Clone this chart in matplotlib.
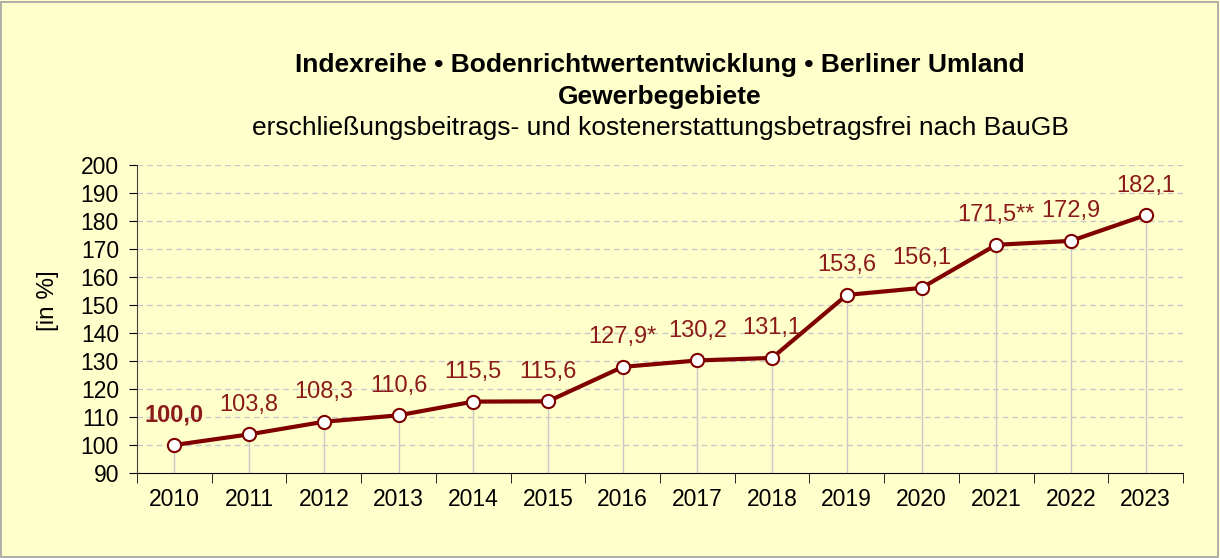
import matplotlib
matplotlib.use("Agg")
import matplotlib.pyplot as plt
from matplotlib.patches import Rectangle

years = ["2010", "2011", "2012", "2013", "2014", "2015", "2016", "2017",
         "2018", "2019", "2020", "2021", "2022", "2023"]
values = [100.0, 103.8, 108.3, 110.6, 115.5, 115.6, 127.9, 130.2,
          131.1, 153.6, 156.1, 171.5, 172.9, 182.1]
labels = ["100,0", "103,8", "108,3", "110,6", "115,5", "115,6", "127,9*", "130,2",
          "131,1", "153,6", "156,1", "171,5**", "172,9", "182,1"]
yticks = list(range(90, 201, 10))

plt.rcParams['font.family'] = ['Liberation Sans', 'DejaVu Sans']

bg = "#FFFFCC"
red = "#800000"
lab_red = "#8B1A1A"

fig = plt.figure(figsize=(12.2, 5.58), dpi=100, facecolor=bg)
fig.patches.append(Rectangle((0.001, 0.002), 0.997, 0.995, transform=fig.transFigure,
                             fill=False, edgecolor="#A0A0A0", linewidth=1.2))
ax = fig.add_axes([0.1123, 0.1523, 0.8574, 0.552])
ax.set_facecolor(bg)

x = list(range(len(years)))
ax.set_xlim(-0.5, len(years) - 0.5)
ax.set_ylim(90, 200)

for yv in yticks[1:]:
    ax.axhline(yv, color="#C8C8C8", linestyle=(0, (4, 3)), linewidth=1.0, zorder=1)

ax.vlines(x, 90, values, color="#C8C8C8", linewidth=1.0, zorder=2)
ax.plot(x, values, color=red, linewidth=3, zorder=3,
        marker="o", markersize=9.5, markerfacecolor="white",
        markeredgecolor=red, markeredgewidth=1.5)

for i, (xv, v, lab) in enumerate(zip(x, values, labels)):
    ax.annotate(lab, (xv, v), xytext=(0, 17), textcoords="offset points",
                ha="center", va="baseline", fontsize=17, color=lab_red,
                fontweight="bold" if i == 0 else "normal", zorder=5)

ax.set_yticks(yticks)
ax.set_xticks(x)
ax.set_xticklabels(years)
ax.set_xticks([i - 0.5 for i in range(len(years) + 1)], minor=True)
ax.tick_params(axis="x", which="major", length=0, labelsize=16.5, pad=11)
ax.tick_params(axis="x", which="minor", length=7, direction="out", color="black")
ax.tick_params(axis="y", length=6, labelsize=16.5, pad=7, color="black")

for s in ["top", "right"]:
    ax.spines[s].set_visible(False)
ax.spines["left"].set_color("#404040")
ax.spines["bottom"].set_color("black")

ax.set_ylabel("[in %]", fontsize=17.5, va="center")
ax.yaxis.set_label_coords(-0.085, 0.56)

fig.text(0.541, 0.883, "Indexreihe • Bodenrichtwertentwicklung • Berliner Umland",
         ha="center", va="center", fontsize=19, fontweight="bold")
fig.text(0.541, 0.826, "Gewerbegebiete", ha="center", va="center",
         fontsize=19, fontweight="bold")
fig.text(0.541, 0.770, "erschließungsbeitrags- und kostenerstattungsbetragsfrei nach BauGB",
         ha="center", va="center", fontsize=19)

fig.savefig("out.png", dpi=100, facecolor=bg)
